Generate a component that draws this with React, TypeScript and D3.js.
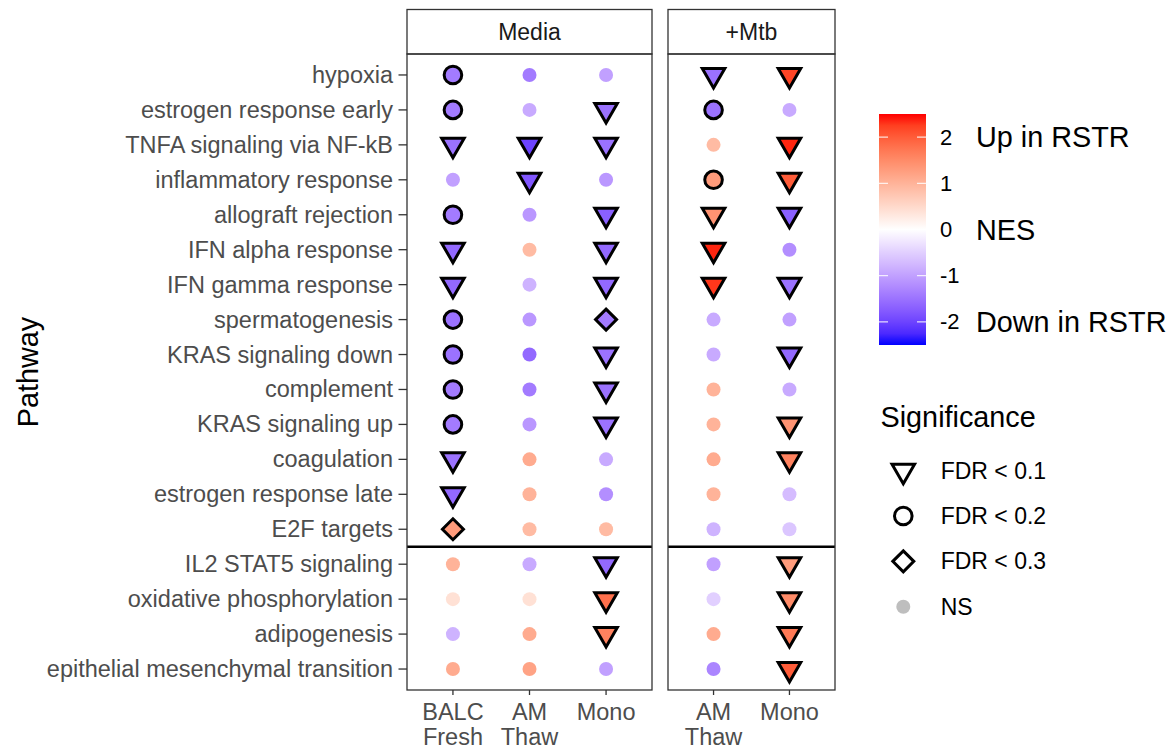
import React from "react";
import * as d3 from "d3";

// pathways, top to bottom
const pathways = [
  "hypoxia",
  "estrogen response early",
  "TNFA signaling via NF-kB",
  "inflammatory response",
  "allograft rejection",
  "IFN alpha response",
  "IFN gamma response",
  "spermatogenesis",
  "KRAS signaling down",
  "complement",
  "KRAS signaling up",
  "coagulation",
  "estrogen response late",
  "E2F targets",
  "IL2 STAT5 signaling",
  "oxidative phosphorylation",
  "adipogenesis",
  "epithelial mesenchymal transition",
];

const panels = ["Media", "+Mtb"];
const mediaCells = ["BALC Fresh", "AM Thaw", "Mono"];
const mtbCells = ["AM Thaw", "Mono"];

// NES per column
const nesMediaBALC = [-1.4, -1.4, -1.5, -1.0, -1.4, -1.6, -1.6, -1.5, -1.5, -1.4, -1.4, -1.5, -1.6, 1.3, 1.0, 0.4, -0.8, 1.1];
const nesMediaAM = [-1.4, -0.9, -2.0, -1.8, -1.1, 0.9, -0.8, -1.1, -1.6, -1.4, -1.1, 1.1, 1.0, 0.9, -0.9, 0.4, 1.1, 1.2];
const nesMediaMono = [-1.0, -1.5, -1.5, -1.1, -1.7, -1.6, -1.6, -1.4, -1.5, -1.5, -1.5, -0.9, -1.2, 0.9, -1.6, 1.8, 1.6, -1.0];
const nesMtbAM = [-1.5, -1.5, 0.9, 1.3, 1.4, 2.4, 2.3, -0.9, -0.9, 1.0, 1.0, 1.1, 1.0, -0.8, -1.0, -0.5, 1.1, -1.3];
const nesMtbMono = [2.2, -0.9, 2.4, 2.0, -1.7, -1.2, -1.5, -1.0, -1.6, -0.9, 1.4, 1.6, -0.7, -0.6, 1.3, 1.5, 1.7, 2.0];

// significance per column: "0.1", "0.2", "0.3" or "NS"
const sigMediaBALC = ["0.2", "0.2", "0.1", "NS", "0.2", "0.1", "0.1", "0.2", "0.2", "0.2", "0.2", "0.1", "0.1", "0.3", "NS", "NS", "NS", "NS"];
const sigMediaAM = ["NS", "NS", "0.1", "0.1", "NS", "NS", "NS", "NS", "NS", "NS", "NS", "NS", "NS", "NS", "NS", "NS", "NS", "NS"];
const sigMediaMono = ["NS", "0.1", "0.1", "NS", "0.1", "0.1", "0.1", "0.3", "0.1", "0.1", "0.1", "NS", "NS", "NS", "0.1", "0.1", "0.1", "NS"];
const sigMtbAM = ["0.1", "0.2", "NS", "0.2", "0.1", "0.1", "0.1", "NS", "NS", "NS", "NS", "NS", "NS", "NS", "NS", "NS", "NS", "NS"];
const sigMtbMono = ["0.1", "NS", "0.1", "0.1", "0.1", "NS", "0.1", "NS", "0.1", "NS", "0.1", "0.1", "NS", "NS", "0.1", "0.1", "0.1", "0.1"];

const sigLevels = ["0.1", "0.2", "0.3", "NS"];
const sigLabels = ["FDR < 0.1", "FDR < 0.2", "FDR < 0.3", "NS"];
const nesTicks = [2, 1, 0, -1, -2];
const nesNotes = ["Up in RSTR", "", "NES", "", "Down in RSTR"];
const splitAfter = "E2F targets";

const FONT = "'Liberation Sans', Arial, Helvetica, sans-serif";

const color = d3
  .scaleLinear<string>()
  .domain([-2.5, 0, 2.5])
  .range(["#0000FF", "#FFFFFF", "#FF0000"])
  .interpolate(d3.interpolateLab);

const tri = (r: number) =>
  `M0,${r}L${r * 0.866},${-r / 2}L${-r * 0.866},${-r / 2}Z`;
const dia = (h: number) => `M0,${-h}L${h},0L0,${h}L${-h},0Z`;

function Mark({ sig, fill }: { sig: string; fill: string }) {
  const stroke = "#000";
  if (sig === "0.1")
    return <path d={tri(13)} fill={fill} stroke={stroke} strokeWidth={3} strokeLinejoin="miter" />;
  if (sig === "0.2") return <circle r={8.8} fill={fill} stroke={stroke} strokeWidth={3} />;
  if (sig === "0.3")
    return <path d={dia(10.5)} fill={fill} stroke={stroke} strokeWidth={3} strokeLinejoin="miter" />;
  return <circle r={7} fill={fill} />;
}

export default function App() {
  const W = 1174;
  const H = 749;
  const top = 54;
  const bottom = 690;
  const stripTop = 9.5;

  const y = d3.scalePoint<string>().domain(pathways).range([top, bottom]).padding(0.6);

  const panelDefs = [
    {
      name: panels[0],
      cells: mediaCells,
      x0: 407,
      x1: 652,
      nes: [nesMediaBALC, nesMediaAM, nesMediaMono],
      sig: [sigMediaBALC, sigMediaAM, sigMediaMono],
    },
    {
      name: panels[1],
      cells: mtbCells,
      x0: 668,
      x1: 835,
      nes: [nesMtbAM, nesMtbMono],
      sig: [sigMtbAM, sigMtbMono],
    },
  ];

  const iSplit = pathways.indexOf(splitAfter);
  const ySplit = ((y(pathways[iSplit]) as number) + (y(pathways[iSplit + 1]) as number)) / 2;

  // colour bar
  const barX = 879;
  const barW = 47;
  const cb = d3.scaleLinear().domain([-2.5, 2.5]).range([345, 114]);
  const stops = d3.range(0, 1.0001, 0.05);

  const legY = d3.scalePoint<string>().domain(sigLevels).range([470.7, 606.7]);

  return (
    <svg
      width={W}
      height={H}
      style={{ position: "absolute", left: 0, top: 0, background: "#fff" }}
      fontFamily={FONT}
    >
      <defs>
        <linearGradient id="nesGrad" x1="0" y1="1" x2="0" y2="0">
          {stops.map((t) => (
            <stop key={t} offset={t} stopColor={color(-2.5 + 5 * t)} />
          ))}
        </linearGradient>
      </defs>
      <rect width={W} height={H} fill="#fff" />

      {/* y axis labels and ticks */}
      {pathways.map((p) => (
        <g key={p} transform={`translate(0,${y(p)})`}>
          <text x={393} textAnchor="end" dominantBaseline="central" fontSize={23.5} fill="#4D4D4D">
            {p}
          </text>
          <line x1={398.5} x2={407} stroke="#333" strokeWidth={1.3} />
        </g>
      ))}
      <text
        transform={`translate(28,${(top + bottom) / 2}) rotate(-90)`}
        textAnchor="middle"
        dominantBaseline="central"
        fontSize={28.8}
        fill="#000"
      >
        Pathway
      </text>

      {panelDefs.map((pd) => {
        const x = d3.scalePoint<string>().domain(pd.cells).range([pd.x0, pd.x1]).padding(0.6);
        return (
          <g key={pd.name}>
            {/* strip */}
            <rect
              x={pd.x0}
              y={stripTop}
              width={pd.x1 - pd.x0}
              height={top - stripTop}
              fill="#fff"
              stroke="#333"
              strokeWidth={1.3}
            />
            <text
              x={(pd.x0 + pd.x1) / 2}
              y={(stripTop + top) / 2}
              textAnchor="middle"
              dominantBaseline="central"
              fontSize={23}
              fill="#1A1A1A"
            >
              {pd.name}
            </text>

            {/* marks */}
            {pd.cells.map((c, ci) =>
              pathways.map((p, pi) => (
                <g key={c + p} transform={`translate(${x(c)},${y(p)})`}>
                  <Mark sig={pd.sig[ci][pi]} fill={color(pd.nes[ci][pi])} />
                </g>
              ))
            )}

            {/* separator */}
            <line x1={pd.x0} x2={pd.x1} y1={ySplit} y2={ySplit} stroke="#000" strokeWidth={2.4} />

            {/* panel border */}
            <rect
              x={pd.x0}
              y={top}
              width={pd.x1 - pd.x0}
              height={bottom - top}
              fill="none"
              stroke="#333"
              strokeWidth={1.3}
            />

            {/* x axis */}
            {pd.cells.map((c) => (
              <g key={c} transform={`translate(${x(c)},${bottom})`}>
                <line y1={0} y2={5} stroke="#333" strokeWidth={1.3} />
                {c.split(" ").map((w, wi) => (
                  <text key={w} y={30 + wi * 25} textAnchor="middle" fontSize={23.5} fill="#4D4D4D">
                    {w}
                  </text>
                ))}
              </g>
            ))}
          </g>
        );
      })}

      {/* NES colour bar */}
      <rect x={barX} y={cb(2.5)} width={barW} height={cb(-2.5) - cb(2.5)} fill="url(#nesGrad)" />
      {nesTicks.map((t, i) => (
        <g key={t} transform={`translate(0,${cb(t)})`}>
          <line x1={barX} x2={barX + 9} stroke="#fff" strokeWidth={1} />
          <line x1={barX + barW - 9} x2={barX + barW} stroke="#fff" strokeWidth={1} />
          <text x={940} dominantBaseline="central" fontSize={22} fill="#000">
            {t}
          </text>
          {nesNotes[i] && (
            <text x={976} dominantBaseline="central" fontSize={28.8} fill="#000">
              {nesNotes[i]}
            </text>
          )}
        </g>
      ))}

      {/* significance legend */}
      <text x={880.5} y={426.5} fontSize={28.8} fill="#000">
        Significance
      </text>
      {sigLevels.map((s, i) => (
        <g key={s} transform={`translate(903.3,${legY(s)})`}>
          <Mark sig={s} fill={s === "NS" ? "#BEBEBE" : "#fff"} />
          <text x={37.4} dominantBaseline="central" fontSize={23} fill="#000">
            {sigLabels[i]}
          </text>
        </g>
      ))}
    </svg>
  );
}
